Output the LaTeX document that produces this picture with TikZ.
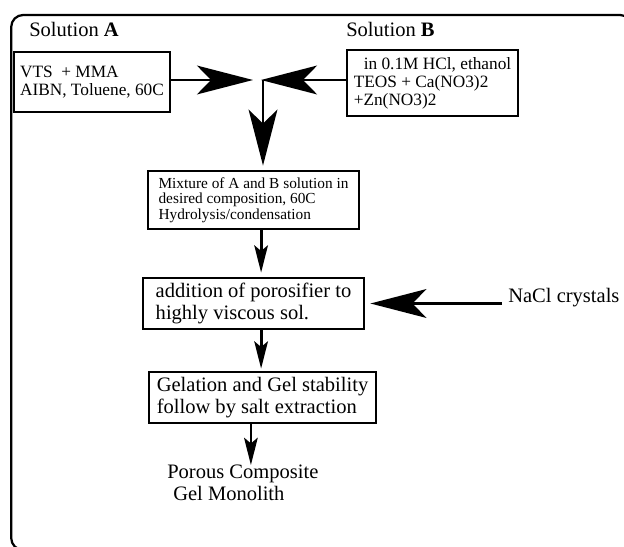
\documentclass[tikz,border=0pt]{standalone}
\usepackage{fontspec}
\setmainfont{Liberation Serif}
\usetikzlibrary{arrows.meta,calc,positioning}
\newcommand{\bigtxt}{\fontsize{14.6}{15.6}\selectfont}
\newcommand{\midtxt}{\fontsize{12.3}{12.8}\selectfont}
\newcommand{\smalltxt}{\fontsize{10.9}{10.9}\selectfont}

\begin{document}
\begin{tikzpicture}[
  x=1cm,y=1cm,
  >=Stealth,
  bigflow/.style={-{Stealth[length=1.4cm,width=.72cm,inset=.35cm]}, line width=2pt},
  flow/.style={-{Stealth[length=.68cm,width=.34cm,inset=.14cm]}, line width=2pt},
  stage/.style={draw, line width=2pt, align=left, inner xsep=.1cm, inner ysep=0pt},
  lbl/.style={inner sep=0pt, align=left, font=\bigtxt},
]
\useasboundingbox (0,0) rectangle (15.6,13.65);
\draw[line width=1.6pt, rounded corners=.3cm] (0.28,13.275) rectangle (15.8,-0.1);

\node[lbl, anchor=base west] (solA) at (0.725,12.725) {Solution \textbf{A}};
\node[lbl, anchor=base west] (solB) at (8.65,12.725) {Solution \textbf{B}};

\node[stage, font=\midtxt, minimum width=3.9cm, minimum height=1.5cm] (mixA) at (2.3,11.6)
  {VTS~ + MMA\\AIBN, Toluene, 60C};
\node[stage, font=\midtxt, minimum width=4.275cm, minimum height=1.65cm] (mixB) at (10.8125,11.575)
  {\hspace*{.25cm}in 0.1M HCl, ethanol\\TEOS + Ca(NO3)2\\+Zn(NO3)2};
\node[stage, font=\smalltxt, minimum width=5.275cm, minimum height=1.45cm] (blend) at (6.3375,8.65)
  {Mixture of A and B solution in\\desired composition, 60C\\Hydrolysis/condensation};
\node[stage, font=\bigtxt, minimum width=5.525cm, minimum height=1.275cm] (poro) at (6.3375,6.0625)
  {addition of porosifier to\\highly viscous sol.};
\node[stage, font=\bigtxt, minimum width=5.675cm, minimum height=1.275cm] (gel) at (6.5625,3.7125)
  {Gelation and Gel stability\\follow by salt extraction};

\node[lbl, anchor=base west] (nacl) at (12.7,6.1) {NaCl crystals};
\node[lbl, anchor=north west] (porous) at (4.175,2.025) {Porous Composite\\\hspace*{.15cm}Gel Monolith};

\coordinate (join) at (6.575,11.65);
\draw[bigflow, shorten >=.25cm] (mixA.east |- join) -- (join);
\draw[bigflow, shorten >=-.05cm] (mixB.west |- join) -- (join);
\draw[bigflow, shorten >=.1cm] (join) -- (join |- blend.north);
\draw[flow, shorten >=.1cm] ([xshift=.19cm]blend.south) -- ([xshift=.19cm]blend.south |- poro.north);
\draw[flow, shorten >=.05cm] ([xshift=.19cm]poro.south) -- ([xshift=.19cm]poro.south |- gel.north);
\draw[flow] ([xshift=-.29cm]gel.south) -- ([xshift=-.29cm]gel.south |- porous.north);
\draw[bigflow, shorten >=.125cm, shorten <=.15cm] (nacl.west |- poro.east) -- (poro.east);
\end{tikzpicture}
\end{document}
